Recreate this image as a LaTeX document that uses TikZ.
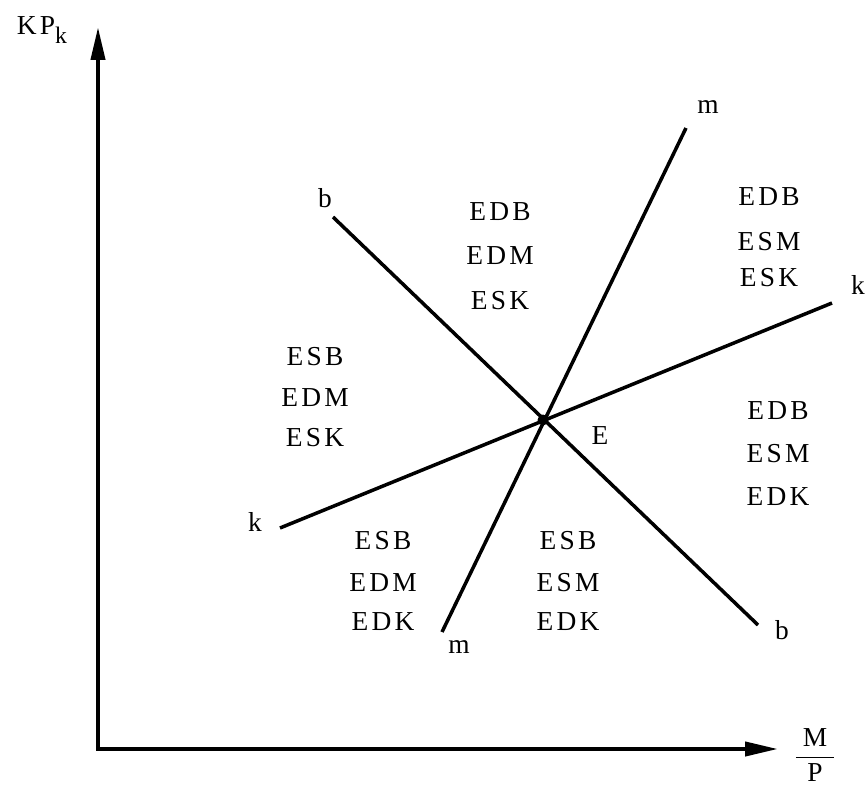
\documentclass[tikz,border=0pt]{standalone}
\usepackage{fontspec}
\setmainfont{Liberation Serif}
\newfontfamily\spacedfont{Liberation Serif}[LetterSpace=12]
\usetikzlibrary{arrows.meta}
\newcommand{\regionfont}{\fontsize{15.6}{18}\selectfont\spacedfont}
\tikzset{
    % axes - long filled heads
    axis/.style={
        {Triangle[length=0.66cm,width=0.28cm]}-{Triangle[length=0.66cm,width=0.28cm]},
        line width=2.3pt,
        line join=miter
    },
    % the three equilibrium lines
    schedule/.style={
        line width=2pt
    },
    % texts
    region/.style={
        font=\regionfont,
        inner sep=0pt
    },
    linelabel/.style={
        font=\regionfont,
        inner sep=0pt
    }
}
\begin{document}
\begin{tikzpicture}[x=0.02cm, y=-0.02cm]
    \useasboundingbox (0,0) rectangle (866,785);

    % axes
    \coordinate (origin) at (98,749);
    \coordinate (ytip) at (98,27);
    \coordinate (xtip) at (778,749);
    \draw[axis] (ytip) -- (origin) -- (xtip);
    \node[linelabel] (ylab) at (42,30) {KP\raisebox{-0.35em}{\fontsize{13.5}{16}\selectfont k}};
    \node[linelabel] (xlab) at (815,755) {$\displaystyle\frac{\;\mbox{\regionfont M}\;}{\mbox{\regionfont P}}$};

    % lines through E
    \coordinate (E) at (543,420);
    \coordinate (b1) at (333,217);
    \coordinate (b2) at (758,625);
    \coordinate (m1) at (442,632);
    \coordinate (m2) at (686,128);
    \coordinate (k1) at (280,528);
    \coordinate (k2) at (832,303);
    \draw[schedule] (b1) -- (b2);
    \draw[schedule] (m1) -- (m2);
    \draw[schedule] (k1) -- (k2);
    \fill (E) circle[radius=0.11cm];

    \node[linelabel] (Elab) at (600,436) {E};
    \node[linelabel] (b1lab) at (325,198) {b};
    \node[linelabel] (b2lab) at (782,630) {b};
    \node[linelabel] (m1lab) at (459,647) {m};
    \node[linelabel] (m2lab) at (708,107) {m};
    \node[linelabel] (k1lab) at (255,522) {k};
    \node[linelabel] (k2lab) at (858,285) {k};

    % regions
    \foreach \txt/\y [count=\i] in {EDB/212,EDM/256,ESK/301}
        \node[region] (top-\i) at (500,\y) {\txt};
    \foreach \txt/\y [count=\i] in {EDB/197,ESM/242,ESK/278}
        \node[region] (upright-\i) at (769,\y) {\txt};
    \foreach \txt/\y [count=\i] in {ESB/357,EDM/398,ESK/438}
        \node[region] (left-\i) at (315,\y) {\txt};
    \foreach \txt/\y [count=\i] in {EDB/411,ESM/454,EDK/497}
        \node[region] (right-\i) at (778,\y) {\txt};
    \foreach \txt/\y [count=\i] in {ESB/541,EDM/583,EDK/622}
        \node[region] (lowleft-\i) at (383,\y) {\txt};
    \foreach \txt/\y [count=\i] in {ESB/541,ESM/583,EDK/622}
        \node[region] (lowright-\i) at (568,\y) {\txt};
\end{tikzpicture}
\end{document}
